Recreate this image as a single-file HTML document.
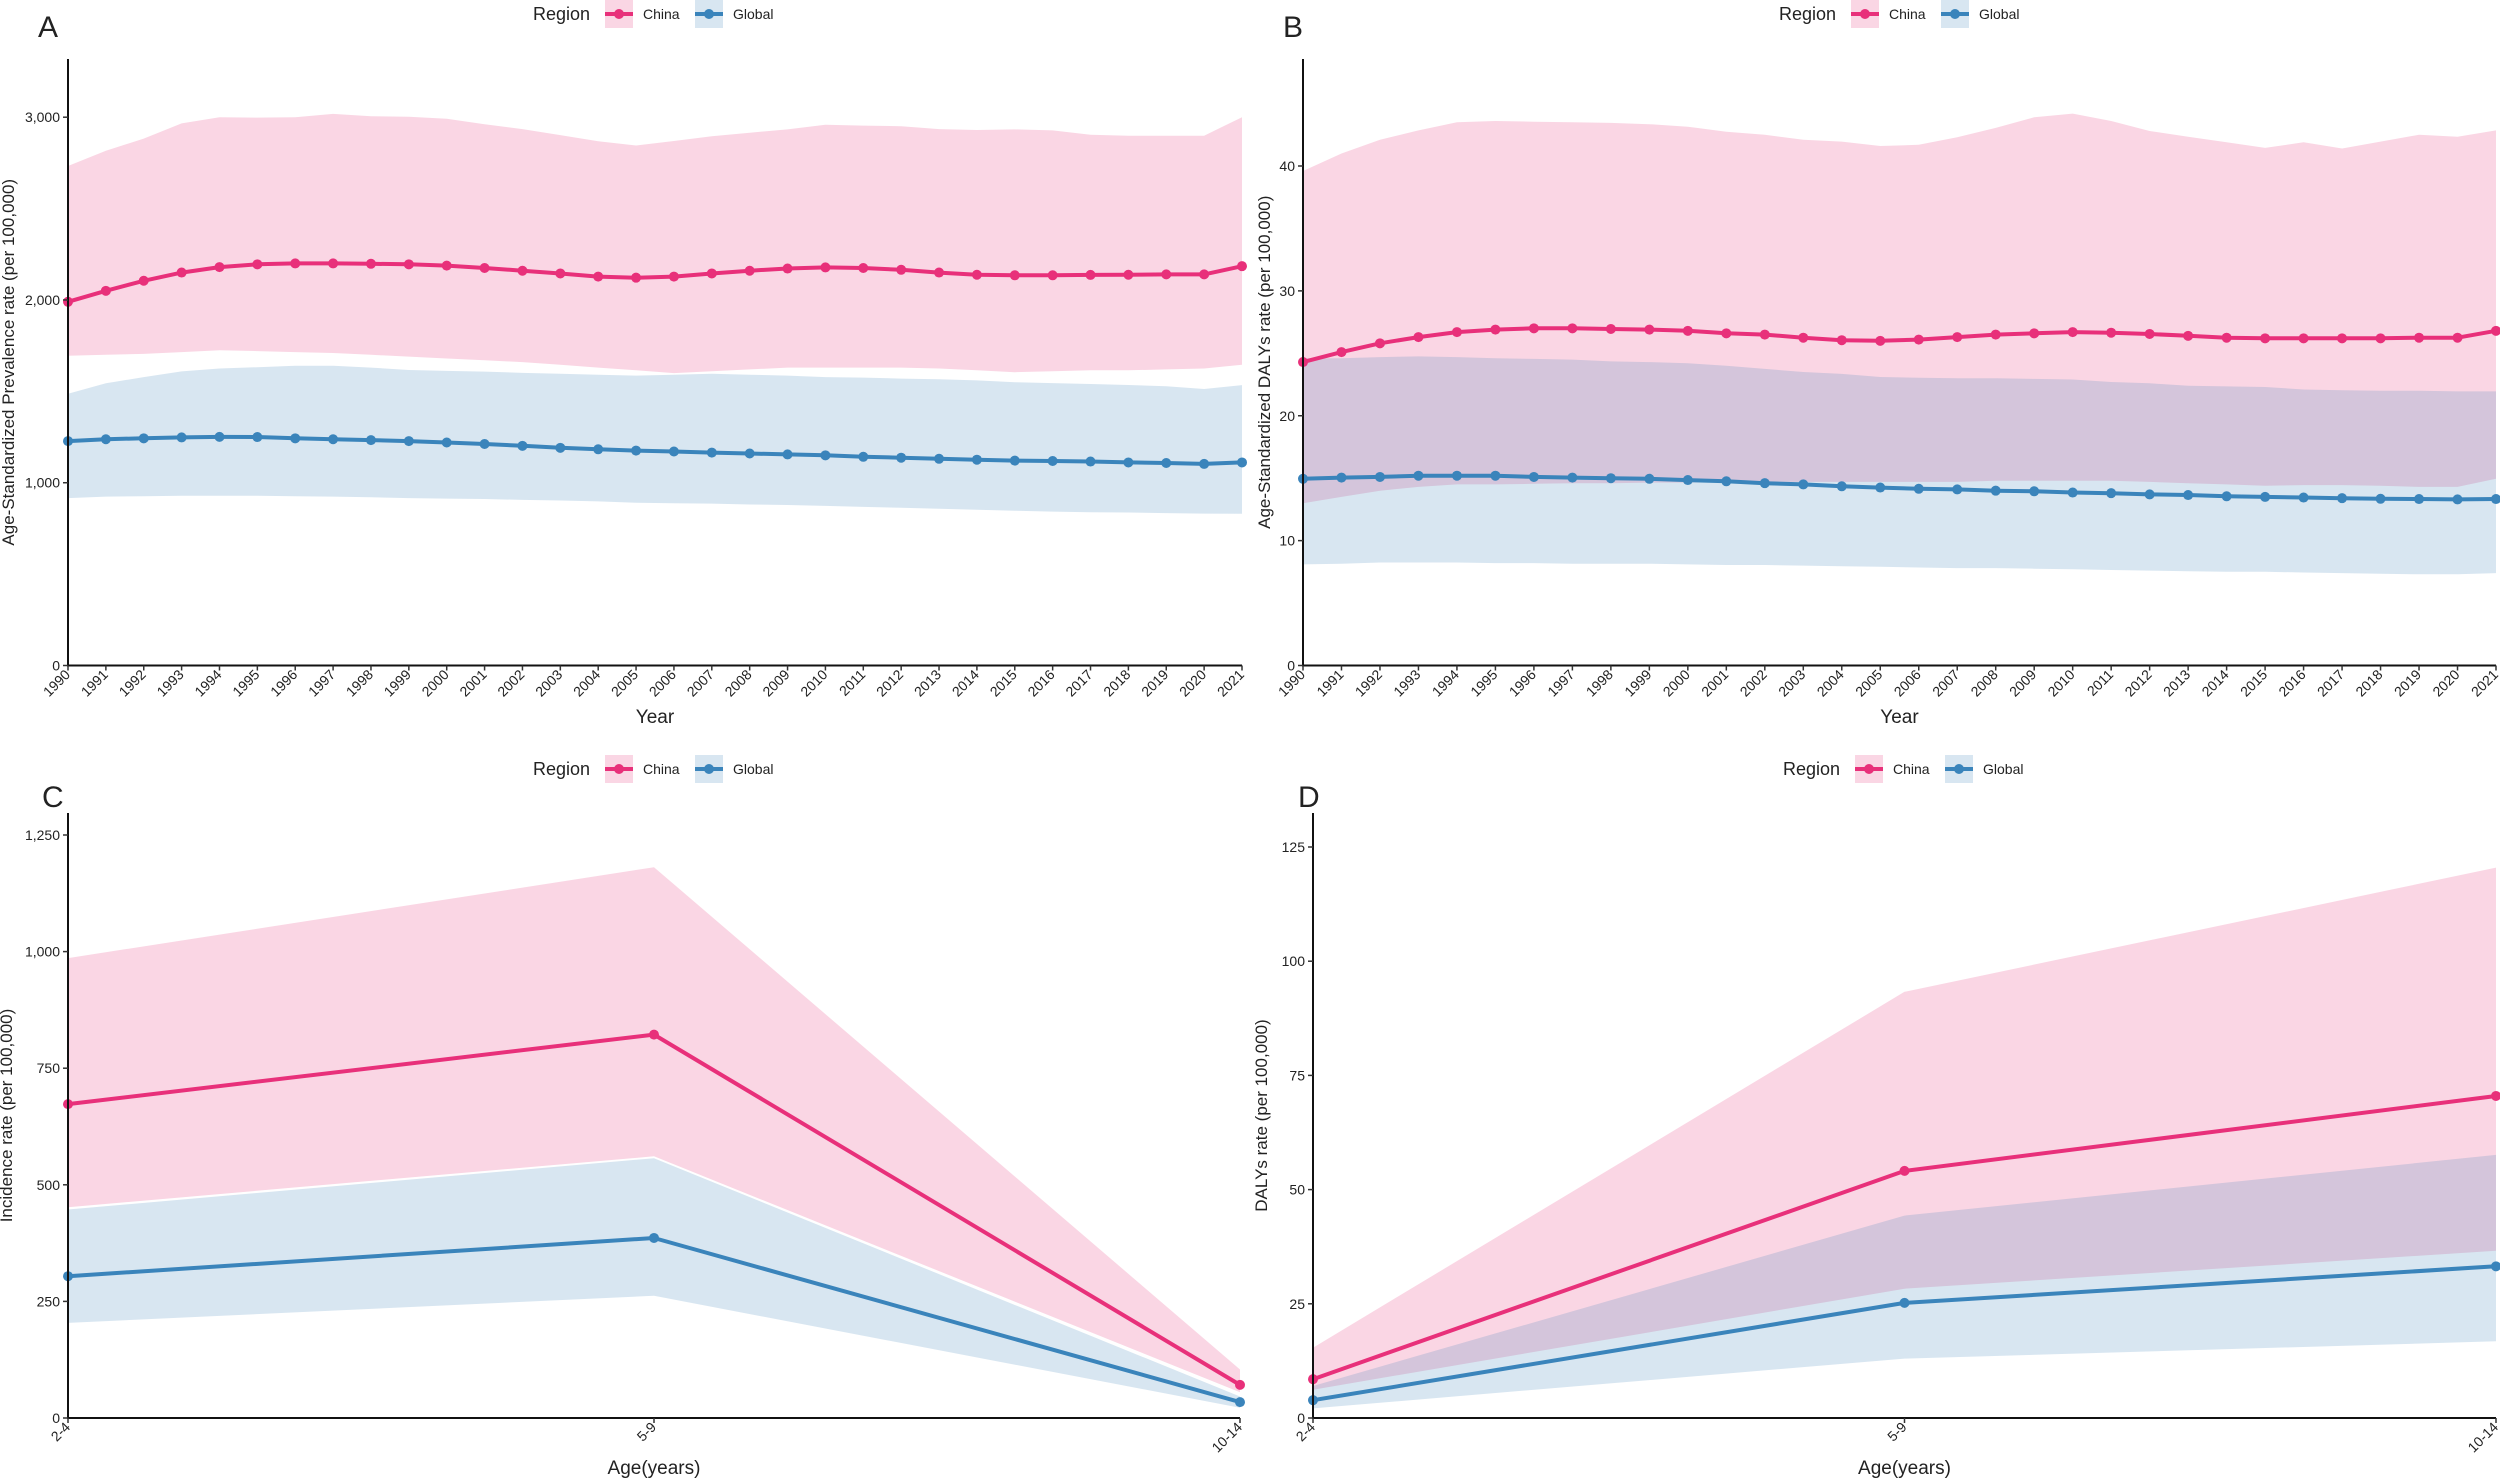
<!DOCTYPE html>
<html><head><meta charset="utf-8"><style>
html,body{margin:0;padding:0;background:#fff}
svg{display:block}
text{font-family:"Liberation Sans",sans-serif;fill:#222}
</style></head><body>
<svg id="fig" width="2500" height="1478" viewBox="0 0 2500 1478" xmlns="http://www.w3.org/2000/svg"></svg>
<script>
// ---------- data ----------
const years = [1990,1991,1992,1993,1994,1995,1996,1997,1998,1999,2000,2001,2002,2003,2004,2005,2006,2007,2008,2009,2010,2011,2012,2013,2014,2015,2016,2017,2018,2019,2020,2021];
const ageGroups = ["2-4","5-9","10-14"];

const aChinaMean = [1990,2050,2105,2150,2180,2195,2200,2200,2198,2195,2188,2175,2160,2145,2128,2122,2128,2145,2160,2172,2178,2175,2165,2150,2138,2135,2135,2137,2138,2140,2140,2185];
const aChinaUpper = [2733,2816,2883,2966,3000,2998,3000,3018,3005,3003,2992,2961,2935,2902,2868,2845,2870,2896,2915,2933,2959,2954,2951,2935,2930,2933,2928,2904,2899,2899,2899,3000];
const aChinaLower = [1695,1700,1705,1715,1725,1720,1715,1710,1700,1690,1680,1670,1660,1645,1630,1615,1600,1610,1620,1630,1630,1630,1630,1625,1615,1605,1610,1615,1615,1620,1625,1645];
const aGlobalMean = [1228,1238,1243,1248,1251,1250,1243,1238,1233,1228,1220,1212,1202,1191,1183,1176,1171,1165,1160,1155,1150,1142,1137,1131,1126,1121,1119,1116,1111,1108,1103,1111];
const aGlobalUpper = [1487,1544,1578,1609,1625,1632,1640,1640,1630,1617,1612,1608,1601,1596,1591,1586,1591,1596,1591,1586,1578,1575,1570,1566,1560,1550,1545,1540,1535,1528,1513,1534];
const aGlobalLower = [916,924,926,929,929,929,926,924,921,916,913,911,906,903,898,891,888,886,881,878,873,868,863,858,852,847,842,839,837,834,831,830];

const bChinaMean = [24.3,25.1,25.8,26.3,26.7,26.9,27.0,27.0,26.95,26.9,26.8,26.6,26.5,26.25,26.05,26.0,26.1,26.3,26.5,26.6,26.7,26.65,26.55,26.4,26.25,26.2,26.2,26.2,26.2,26.25,26.25,26.8];
const bChinaUpper = [39.6,41.0,42.1,42.85,43.5,43.6,43.55,43.5,43.45,43.35,43.15,42.75,42.5,42.1,41.95,41.6,41.7,42.3,43.05,43.9,44.2,43.6,42.8,42.35,41.9,41.45,41.9,41.4,41.95,42.5,42.35,42.85];
const bChinaLower = [13.0,13.5,14.0,14.3,14.5,14.5,14.55,14.6,14.6,14.65,14.65,14.7,14.7,14.7,14.7,14.7,14.7,14.7,14.8,14.8,14.8,14.8,14.7,14.6,14.5,14.4,14.45,14.45,14.4,14.3,14.3,14.95];
const bGlobalMean = [14.95,15.05,15.1,15.2,15.2,15.2,15.1,15.05,15.0,14.95,14.85,14.75,14.6,14.5,14.35,14.25,14.15,14.1,14.0,13.95,13.85,13.8,13.7,13.65,13.55,13.5,13.45,13.4,13.35,13.33,13.3,13.33];
const bGlobalUpper = [24.6,24.6,24.7,24.75,24.7,24.6,24.55,24.5,24.35,24.3,24.2,24.0,23.75,23.5,23.35,23.1,23.05,23.0,23.0,22.95,22.9,22.7,22.6,22.4,22.35,22.3,22.1,22.05,22.0,22.0,21.95,21.95];
const bGlobalLower = [8.1,8.15,8.25,8.25,8.25,8.2,8.2,8.15,8.15,8.15,8.1,8.05,8.05,8.0,7.95,7.9,7.85,7.8,7.8,7.75,7.7,7.65,7.6,7.55,7.5,7.5,7.45,7.4,7.35,7.3,7.3,7.4];

const cChinaMean = [673,822,71];
const cChinaUpper = [986,1181,104];
const cChinaLower = [452,561,55];
const cGlobalMean = [304,386,34];
const cGlobalUpper = [447,557,46];
const cGlobalLower = [204,262,22];

const dChinaMean = [8.5,54.1,70.5];
const dChinaUpper = [15.4,93.3,120.5];
const dChinaLower = [6.2,28.3,36.6];
const dGlobalMean = [3.9,25.2,33.2];
const dGlobalUpper = [7.0,44.3,57.6];
const dGlobalLower = [2.1,13.0,16.8];

const aTicks = [0,1000,2000,3000];
const bTicks = [0,10,20,30,40];
const cTicks = [0,250,500,750,1000,1250];
const dTicks = [0,25,50,75,100,125];

// ---------- drawing ----------
const NS = "http://www.w3.org/2000/svg";
const svg = document.getElementById("fig");
const PINK = "#E8307A", BLUE = "#3A84BB";
function mk(tag, attrs, parent){
  const e = document.createElementNS(NS, tag);
  for (const k in attrs) e.setAttribute(k, attrs[k]);
  (parent||svg).appendChild(e);
  return e;
}
function fmt(v){ return v.toLocaleString("en-US"); }

function panel(p){
  const g = mk("g", {});
  
  
  const n = p.cats.length;
  const xs = i => p.x0 + (p.x1 - p.x0) * i / (n - 1);
  const ys = v => p.y0 - (p.y0 - p.yRef) * v / p.vRef;

  // ribbons
  function ribbon(up, lo, col, name){
    let d = "M";
    for (let i = 0; i < n; i++) d += (i?"L":"") + xs(i).toFixed(1) + "," + ys(up[i]).toFixed(1);
    for (let i = n - 1; i >= 0; i--) d += "L" + xs(i).toFixed(1) + "," + ys(lo[i]).toFixed(1);
    const r = mk("path", {d: d + "Z", fill: col, "fill-opacity": 0.2}, g);
    
    
  }
  ribbon(p.cu, p.cl, PINK, "china-ribbon");
  ribbon(p.gu, p.gl, BLUE, "global-ribbon");

  function series(m, col, name){
    const pts = m.map((v, i) => xs(i).toFixed(1) + "," + ys(v).toFixed(1)).join(" ");
    const l = mk("polyline", {points: pts, fill: "none", stroke: col, "stroke-width": 4, "stroke-linejoin": "round"}, g);
    
    
    m.forEach((v, i) => {
      const c = mk("circle", {cx: xs(i), cy: ys(v), r: 5, fill: col}, g);
      
      
    });
  }
  series(p.gm, BLUE, "global");
  series(p.cm, PINK, "china");

  // axes
  const ax = mk("path", {d: `M${p.x0},${p.yTop}V${p.y0}H${p.x1}`, fill: "none", stroke: "#111", "stroke-width": 2}, g);
  
  
  p.ticks.forEach(t => {
    const y = ys(t);
    mk("line", {x1: p.x0 - 5, x2: p.x0, y1: y, y2: y, stroke: "#333", "stroke-width": 1.5}, g);
    const tl = mk("text", {x: p.x0 - 8, y: y + 5, "text-anchor": "end", "font-size": 14, fill: "#444"}, g);
    tl.textContent = fmt(t);
    
    
  });
  p.cats.forEach((c, i) => {
    const x = xs(i);
    mk("line", {x1: x, x2: x, y1: p.y0, y2: p.y0 + 5, stroke: "#333", "stroke-width": 1.5}, g);
    const tl = mk("text", {x: x + 3, y: p.y0 + 10, "text-anchor": "end", "font-size": 14, fill: "#444",
      transform: `rotate(-45 ${x + 3} ${p.y0 + 10})`}, g);
    tl.textContent = c;
    
    
  });
  const xt = mk("text", {x: (p.x0 + p.x1) / 2, y: p.xTitleY, "text-anchor": "middle", "font-size": 19}, g);
  xt.textContent = p.xTitle;
  
  
  const ymid = (p.yTop + p.y0) / 2;
  const yt = mk("text", {x: p.yTitleX, y: ymid, "text-anchor": "middle", "font-size": 17,
    transform: `rotate(-90 ${p.yTitleX} ${ymid})`}, g);
  yt.textContent = p.yTitle;
  
  
  const lt = mk("text", {x: p.letterX, y: p.letterY, "font-size": 30}, g);
  lt.textContent = p.letter;
  
  

  // legend
  const lg = mk("g", {}, g);
  
  
  const ly = p.legY;
  const rt = mk("text", {x: p.legX, y: ly + 6, "font-size": 18}, lg);
  rt.textContent = "Region";
  
  
  [[PINK, "China", p.legX + 72], [BLUE, "Global", p.legX + 162]].forEach(([col, lab, bx]) => {
    const e = mk("g", {}, lg);
    
    
    mk("rect", {x: bx, y: ly - 14, width: 28, height: 28, fill: col, "fill-opacity": 0.2}, e);
    mk("line", {x1: bx, x2: bx + 28, y1: ly, y2: ly, stroke: col, "stroke-width": 4}, e);
    mk("circle", {cx: bx + 14, cy: ly, r: 5, fill: col}, e);
    const t = mk("text", {x: bx + 38, y: ly + 5, "font-size": 14}, e);
    t.textContent = lab;
  });
}

panel({letter:"A", letterX:38, letterY:37, cats: years, x0:68, x1:1242, y0:665.5, yRef:117.2, vRef:3000, yTop:59,
  ticks:aTicks, cm:aChinaMean, cu:aChinaUpper, cl:aChinaLower, gm:aGlobalMean, gu:aGlobalUpper, gl:aGlobalLower,
  xTitle:"Year", xTitleY:723, yTitle:"Age-Standardized Prevalence rate (per 100,000)", yTitleX:14, legX:533, legY:14});
panel({letter:"B", letterX:1283, letterY:37, cats: years, x0:1303, x1:2496, y0:665.5, yRef:166, vRef:40, yTop:59,
  ticks:bTicks, cm:bChinaMean, cu:bChinaUpper, cl:bChinaLower, gm:bGlobalMean, gu:bGlobalUpper, gl:bGlobalLower,
  xTitle:"Year", xTitleY:723, yTitle:"Age-Standardized DALYs rate (per 100,000)", yTitleX:1270, legX:1779, legY:14});
panel({letter:"C", letterX:42, letterY:807, cats: ageGroups, x0:68, x1:1240, y0:1418, yRef:835, vRef:1250, yTop:813,
  ticks:cTicks, cm:cChinaMean, cu:cChinaUpper, cl:cChinaLower, gm:cGlobalMean, gu:cGlobalUpper, gl:cGlobalLower,
  xTitle:"Age(years)", xTitleY:1474, yTitle:"Incidence rate (per 100,000)", yTitleX:12, legX:533, legY:769});
panel({letter:"D", letterX:1298, letterY:807, cats: ageGroups, x0:1313, x1:2496, y0:1418, yRef:847, vRef:125, yTop:813,
  ticks:dTicks, cm:dChinaMean, cu:dChinaUpper, cl:dChinaLower, gm:dGlobalMean, gu:dGlobalUpper, gl:dGlobalLower,
  xTitle:"Age(years)", xTitleY:1474, yTitle:"DALYs rate (per 100,000)", yTitleX:1267, legX:1783, legY:769});
</script>
</body></html>
